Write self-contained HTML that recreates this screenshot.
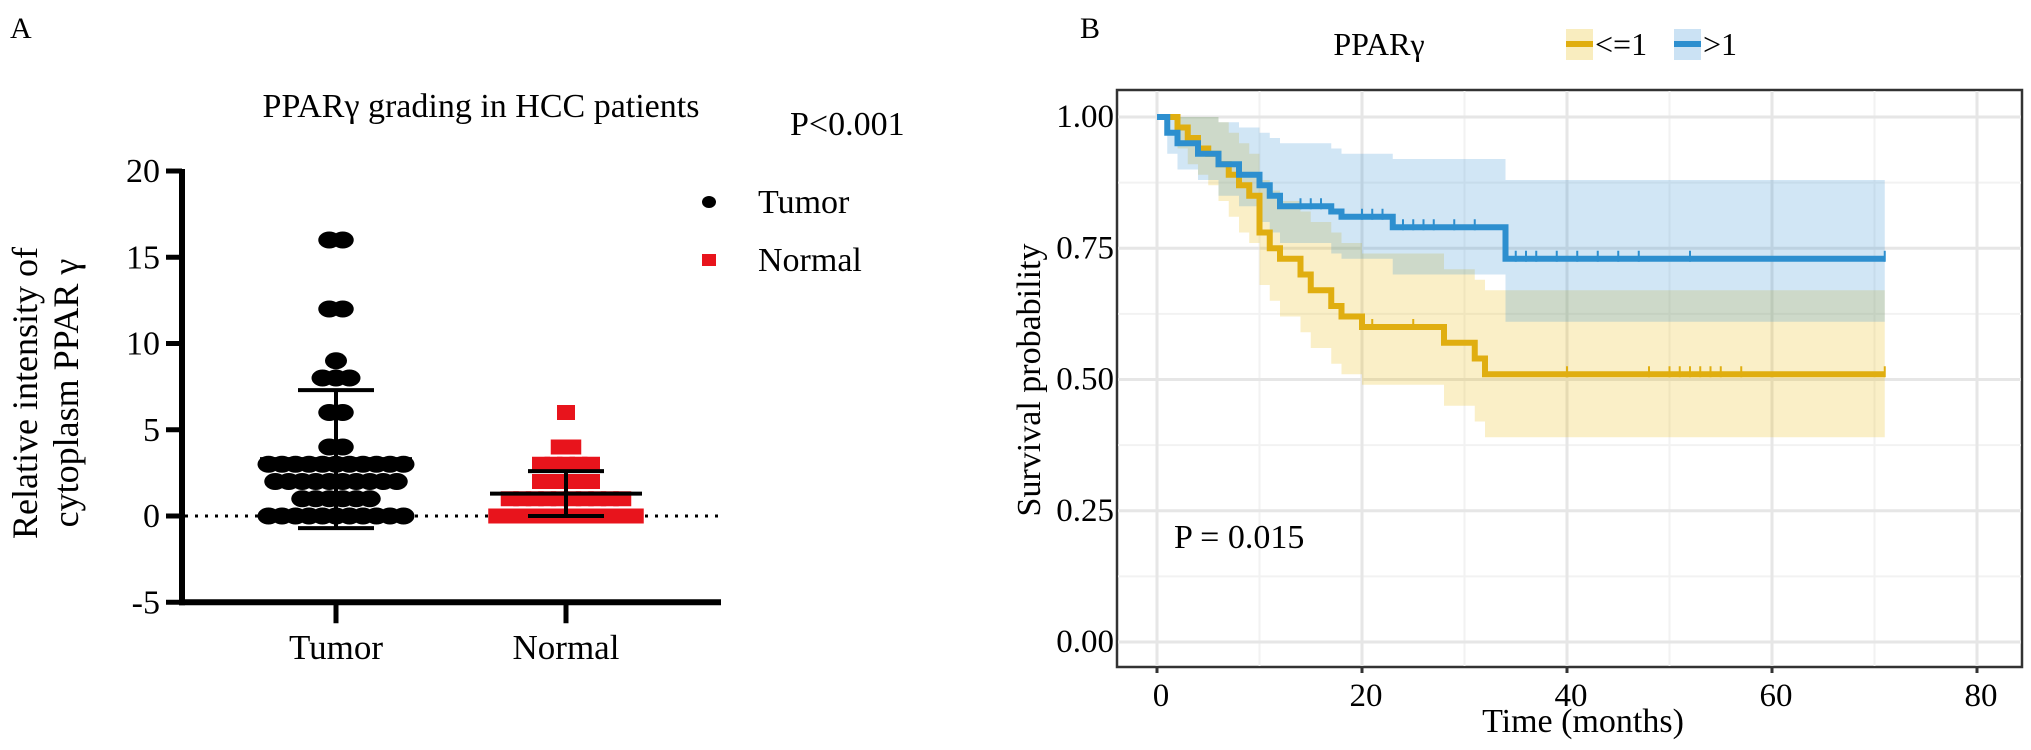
<!DOCTYPE html>
<html><head><meta charset="utf-8"><style>
html,body{margin:0;padding:0;background:#fff;}
svg{display:block;font-family:"Liberation Serif","DejaVu Serif",serif;}
</style></head><body>
<svg id="fig" width="2031" height="750" viewBox="0 0 2031 750" xmlns="http://www.w3.org/2000/svg">
<g id="pa"></g>
<g id="pb"></g>
</svg>
<script>
// ---------- Panel A data ----------
const groupsA = ["Tumor","Normal"];
const tumorValues = [0,1,2,3,4,6,8,9,12,16];
const tumorCounts = [11,6,10,11,2,2,3,1,2,2];
const normalValues = [0,1,2,3,4,6];
const normalCounts = [12,10,5,5,2,1];
const groupMeans = [3.3,1.3];
const groupSDs = [4.0,1.3];
const yTicksA = [-5,0,5,10,15,20];

// ---------- Panel B data ----------
const lowTimes  = [0,2,3,4,5,6,7,8,9,10,11,12,14,15,17,18,20,28,31,32,71];
const lowSurv   = [1,0.98,0.96,0.94,0.93,0.91,0.89,0.87,0.85,0.78,0.75,0.73,0.70,0.67,0.64,0.62,0.60,0.57,0.54,0.51,0.51];
const lowUpper  = [1,1,1,1,1,0.99,0.97,0.95,0.93,0.88,0.86,0.84,0.82,0.80,0.78,0.76,0.74,0.71,0.69,0.67,0.67];
const lowLower  = [1,0.94,0.91,0.89,0.87,0.84,0.81,0.78,0.76,0.68,0.65,0.62,0.59,0.56,0.53,0.51,0.49,0.45,0.42,0.39,0.39];
const highTimes = [0,1,2,4,6,8,10,11,12,17,18,23,34,71];
const highSurv  = [1,0.97,0.95,0.93,0.91,0.89,0.87,0.85,0.83,0.82,0.81,0.79,0.73,0.73];
const highUpper = [1,1,1,1,0.99,0.98,0.97,0.96,0.95,0.94,0.93,0.92,0.88,0.88];
const highLower = [1,0.93,0.90,0.88,0.85,0.83,0.80,0.78,0.76,0.74,0.73,0.70,0.61,0.61];
const lowCensor  = [21,25,40,48,50,51,52,53,54,55,57,71];
const highCensor = [14,15,16,17,20,21,22,24,25,26,27,29,31,35,36,37,39,41,43,45,47,52,71];
const xTicksB = [0,20,40,60,80];
const yTicksB = [0,0.25,0.5,0.75,1];

const NS="http://www.w3.org/2000/svg";
function mk(parent,tag,attrs,text){const e=document.createElementNS(NS,tag);for(const k in attrs)e.setAttribute(k,attrs[k]);if(text!==undefined)e.textContent=text;parent.appendChild(e);return e;}

// ---------- Panel A ----------
const pa=document.getElementById('pa');
const yA=v=>516-v*17.25;
const xA=[336,566];
let t;
t=mk(pa,'text',{x:10,y:38,'font-size':30},'A');

t=mk(pa,'text',{x:481,y:117,'font-size':34,'text-anchor':'middle'},'PPARγ  grading in HCC patients');

t=mk(pa,'text',{x:790,y:135,'font-size':34},'P<0.001');

t=mk(pa,'text',{transform:'translate(37,393) rotate(-90)','font-size':36,'text-anchor':'middle'},'Relative intensity of');

t=mk(pa,'text',{transform:'translate(78,393) rotate(-90)','font-size':36,'text-anchor':'middle'},'cytoplasm PPAR γ');

// axes
let l=mk(pa,'line',{x1:182,y1:yA(20)-2,x2:182,y2:yA(-5)+3,stroke:'#000','stroke-width':6});

l=mk(pa,'line',{x1:179,y1:yA(-5),x2:721,y2:yA(-5),stroke:'#000','stroke-width':6});

yTicksA.forEach(v=>{
  const tk=mk(pa,'line',{x1:166,y1:yA(v),x2:182,y2:yA(v),stroke:'#000','stroke-width':5});
  
  const tl=mk(pa,'text',{x:160,y:yA(v)+11,'font-size':34,'text-anchor':'end'},String(v));
  
});
groupsA.forEach((g,i)=>{
  const tk=mk(pa,'line',{x1:xA[i],y1:yA(-5),x2:xA[i],y2:yA(-5)+21,stroke:'#000','stroke-width':5});
  
  const tl=mk(pa,'text',{x:xA[i],y:659,'font-size':35,'text-anchor':'middle'},g);
  
});
l=mk(pa,'line',{x1:185,y1:yA(0),x2:721,y2:yA(0),stroke:'#000','stroke-width':3,'stroke-dasharray':'3 7'});

// points
tumorValues.forEach((v,i)=>{
  const n=tumorCounts[i];const sp=13.5;
  for(let k=0;k<n;k++){
    const cx=xA[0]+(k-(n-1)/2)*sp;
    const c=mk(pa,'ellipse',{cx:cx,cy:yA(v),rx:11,ry:8.5,fill:'#000'});
    
  }
});
normalValues.forEach((v,i)=>{
  const n=normalCounts[i];const sp=12.5;
  for(let k=0;k<n;k++){
    const cx=xA[1]+(k-(n-1)/2)*sp;
    const r=mk(pa,'rect',{x:cx-9,y:yA(v)-7.5,width:18,height:15,fill:'#e8141c'});
    
  }
});
// mean & sd
groupsA.forEach((g,i)=>{
  const m=groupMeans[i],s=groupSDs[i];
  const ml=mk(pa,'line',{x1:xA[i]-76,y1:yA(m),x2:xA[i]+76,y2:yA(m),stroke:'#000','stroke-width':4});
  
  const sl=mk(pa,'line',{x1:xA[i],y1:yA(m+s),x2:xA[i],y2:yA(m-s),stroke:'#000','stroke-width':4});
  
  [m+s,m-s].forEach(v=>{
    const cp=mk(pa,'line',{x1:xA[i]-38,y1:yA(v),x2:xA[i]+38,y2:yA(v),stroke:'#000','stroke-width':4});
    
  });
});
// legend
let lg=mk(pa,'ellipse',{cx:709,cy:202,rx:7,ry:6,fill:'#000'});

lg=mk(pa,'text',{x:758,y:213,'font-size':34},'Tumor');

lg=mk(pa,'rect',{x:702,y:254,width:14,height:12,fill:'#e8141c'});

lg=mk(pa,'text',{x:758,y:271,'font-size':34},'Normal');


// ---------- Panel B ----------
const pb=document.getElementById('pb');
const xB=v=>1157+v*10.25;
const yB=v=>642-v*525;
t=mk(pb,'text',{x:1080,y:38,'font-size':30},'B');

let bg=mk(pb,'rect',{x:1117,y:90,width:905,height:577,fill:'#fff',stroke:'#333','stroke-width':2.5});

// grid
[10,30,50,70].forEach(v=>{const g=mk(pb,'line',{x1:xB(v),y1:91,x2:xB(v),y2:666,stroke:'#f2f2f2','stroke-width':2});});
[0.125,0.375,0.625,0.875].forEach(v=>{const g=mk(pb,'line',{x1:1118,y1:yB(v),x2:2021,y2:yB(v),stroke:'#f2f2f2','stroke-width':2});});
xTicksB.forEach(v=>{
  const g=mk(pb,'line',{x1:xB(v),y1:91,x2:xB(v),y2:666,stroke:'#e6e6e6','stroke-width':3});
  
  const tk=mk(pb,'line',{x1:xB(v),y1:667,x2:xB(v),y2:673,stroke:'#333','stroke-width':3});
  
  const tl=mk(pb,'text',{x:xB(v)+4,y:706,'font-size':33,'text-anchor':'middle'},String(v));
  
});
yTicksB.forEach(v=>{
  const g=mk(pb,'line',{x1:1118,y1:yB(v),x2:2021,y2:yB(v),stroke:'#e6e6e6','stroke-width':3});
  
  const tl=mk(pb,'text',{x:1114,y:yB(v)+10,'font-size':33,'text-anchor':'end'},v.toFixed(2));
  
});
t=mk(pb,'text',{x:1583,y:732,'font-size':34,'text-anchor':'middle'},'Time (months)');

t=mk(pb,'text',{transform:'translate(1040,380) rotate(-90)','font-size':34,'text-anchor':'middle'},'Survival probability');


function stepPath(ts,vs){let d=`M${xB(ts[0])},${yB(vs[0])}`;for(let i=1;i<ts.length;i++){d+=`H${xB(ts[i])}V${yB(vs[i])}`;}return d;}
function bandPath(ts,up,lo){let d=`M${xB(ts[0])},${yB(up[0])}`;for(let i=1;i<ts.length;i++){d+=`H${xB(ts[i])}V${yB(up[i])}`;}
  d+=`V${yB(lo[lo.length-1])}`;for(let i=ts.length-1;i>0;i--){d+=`H${xB(ts[i])}V${yB(lo[i-1])}`;}d+=`H${xB(ts[0])}Z`;return d;}
let p=mk(pb,'path',{d:bandPath(lowTimes,lowUpper,lowLower),fill:'rgba(231,184,0,0.22)'});

p=mk(pb,'path',{d:bandPath(highTimes,highUpper,highLower),fill:'rgba(46,140,210,0.22)'});

p=mk(pb,'path',{d:stepPath(lowTimes,lowSurv),fill:'none',stroke:'#E0AE10','stroke-width':6});

p=mk(pb,'path',{d:stepPath(highTimes,highSurv),fill:'none',stroke:'#2D8FCF','stroke-width':6});

function survAt(ts,vs,t){let s=vs[0];for(let i=0;i<ts.length;i++){if(ts[i]<=t)s=vs[i];}return s;}
lowCensor.forEach(c=>{const s=survAt(lowTimes,lowSurv,c);const m=mk(pb,'line',{x1:xB(c),y1:yB(s)-8,x2:xB(c),y2:yB(s)+3,stroke:'#E0AE10','stroke-width':2});});
highCensor.forEach(c=>{const s=survAt(highTimes,highSurv,c);const m=mk(pb,'line',{x1:xB(c),y1:yB(s)-8,x2:xB(c),y2:yB(s)+3,stroke:'#2D8FCF','stroke-width':2});});
t=mk(pb,'text',{x:1174,y:548,'font-size':34},'P = 0.015');

// legend
t=mk(pb,'text',{x:1379,y:55,'font-size':32,'text-anchor':'middle'},'PPARγ');

let k=mk(pb,'rect',{x:1566,y:29,width:27,height:31,fill:'rgba(231,184,0,0.25)'});

k=mk(pb,'line',{x1:1566,y1:44,x2:1593,y2:44,stroke:'#E0AE10','stroke-width':6});

t=mk(pb,'text',{x:1595,y:55,'font-size':32},'<=1');

k=mk(pb,'rect',{x:1674,y:29,width:27,height:31,fill:'rgba(46,140,210,0.25)'});

k=mk(pb,'line',{x1:1674,y1:44,x2:1701,y2:44,stroke:'#2D8FCF','stroke-width':6});

t=mk(pb,'text',{x:1703,y:55,'font-size':32},'>1');

</script>
</body></html>
